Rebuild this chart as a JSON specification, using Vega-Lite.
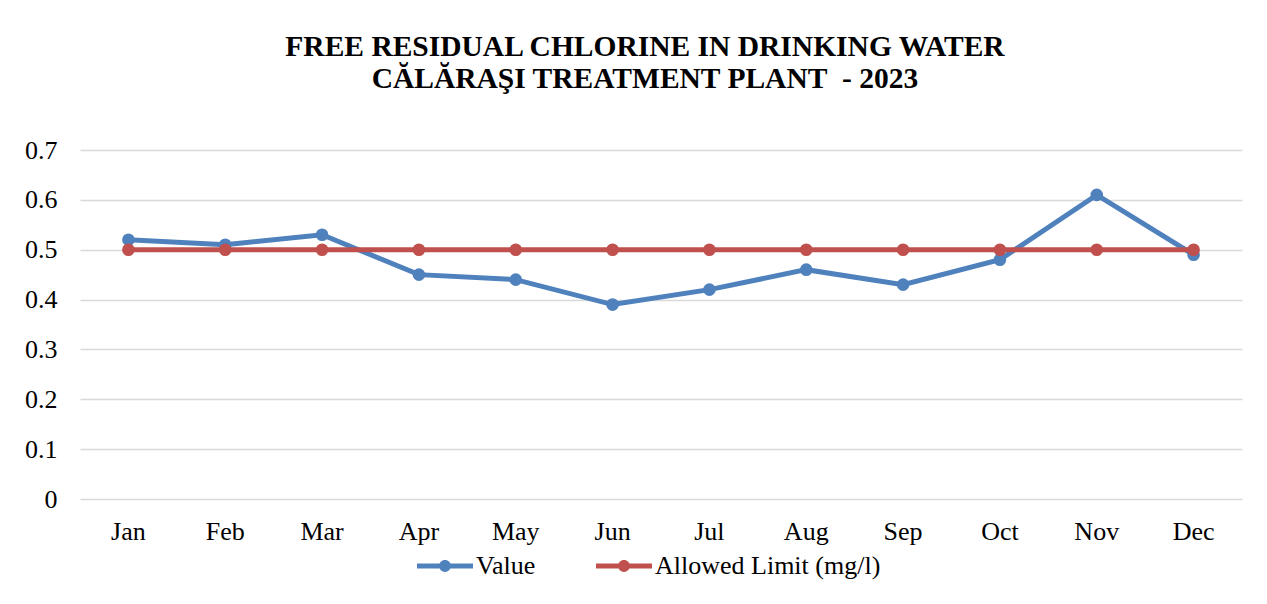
{
  "$schema": "https://vega.github.io/schema/vega-lite/v6.json",
  "autosize": "none",
  "width": 1162,
  "height": 349,
  "padding": {"left": 80, "top": 150, "right": 25, "bottom": 105},
  "background": "white",
  "title": {
    "text": ["FREE RESIDUAL CHLORINE IN DRINKING WATER", "CĂLĂRAŞI TREATMENT PLANT\u00a0 - 2023"],
    "font": "Liberation Serif",
    "fontSize": 29.5,
    "fontWeight": "bold",
    "color": "#000000",
    "anchor": "middle",
    "lineHeight": 32,
    "offset": 43,
    "dx": -16
  },
  "data": {
    "values": [
      {"month": "Jan", "series": "Value", "v": 0.52},
      {"month": "Feb", "series": "Value", "v": 0.51},
      {"month": "Mar", "series": "Value", "v": 0.53},
      {"month": "Apr", "series": "Value", "v": 0.45},
      {"month": "May", "series": "Value", "v": 0.44},
      {"month": "Jun", "series": "Value", "v": 0.39},
      {"month": "Jul", "series": "Value", "v": 0.42},
      {"month": "Aug", "series": "Value", "v": 0.46},
      {"month": "Sep", "series": "Value", "v": 0.43},
      {"month": "Oct", "series": "Value", "v": 0.48},
      {"month": "Nov", "series": "Value", "v": 0.61},
      {"month": "Dec", "series": "Value", "v": 0.49},
      {"month": "Jan", "series": "Allowed Limit (mg/l)", "v": 0.5},
      {"month": "Feb", "series": "Allowed Limit (mg/l)", "v": 0.5},
      {"month": "Mar", "series": "Allowed Limit (mg/l)", "v": 0.5},
      {"month": "Apr", "series": "Allowed Limit (mg/l)", "v": 0.5},
      {"month": "May", "series": "Allowed Limit (mg/l)", "v": 0.5},
      {"month": "Jun", "series": "Allowed Limit (mg/l)", "v": 0.5},
      {"month": "Jul", "series": "Allowed Limit (mg/l)", "v": 0.5},
      {"month": "Aug", "series": "Allowed Limit (mg/l)", "v": 0.5},
      {"month": "Sep", "series": "Allowed Limit (mg/l)", "v": 0.5},
      {"month": "Oct", "series": "Allowed Limit (mg/l)", "v": 0.5},
      {"month": "Nov", "series": "Allowed Limit (mg/l)", "v": 0.5},
      {"month": "Dec", "series": "Allowed Limit (mg/l)", "v": 0.5}
    ]
  },
  "mark": {
    "type": "line",
    "strokeWidth": 5,
    "point": {"filled": true, "size": 160, "opacity": 1}
  },
  "encoding": {
    "x": {
      "field": "month",
      "type": "ordinal",
      "sort": ["Jan","Feb","Mar","Apr","May","Jun","Jul","Aug","Sep","Oct","Nov","Dec"],
      "scale": {"type": "band", "paddingInner": 0, "paddingOuter": 0},
      "axis": {
        "title": null,
        "labelAngle": 0,
        "domain": false,
        "ticks": false,
        "grid": false,
        "labelPadding": 19,
        "labelFont": "Liberation Serif",
        "labelFontSize": 26,
        "labelColor": "#000000"
      }
    },
    "y": {
      "field": "v",
      "type": "quantitative",
      "scale": {"domain": [0, 0.7], "nice": false, "zero": true},
      "axis": {
        "title": null,
        "values": [0, 0.1, 0.2, 0.3, 0.4, 0.5, 0.6, 0.7],
        "labelExpr": "datum.value == 0 ? '0' : format(datum.value, '.1f')",
        "domain": false,
        "ticks": false,
        "grid": true,
        "gridColor": "#D9D9D9",
        "gridWidth": 1.5,
        "labelPadding": 23,
        "labelFont": "Liberation Serif",
        "labelFontSize": 26,
        "labelColor": "#000000",
        "labelFlush": false
      }
    },
    "color": {
      "field": "series",
      "type": "nominal",
      "sort": ["Value", "Allowed Limit (mg/l)"],
      "scale": {"domain": ["Value", "Allowed Limit (mg/l)"], "range": ["#4F81BD", "#C0504D"]},
      "legend": {
        "title": null,
        "orient": "none",
        "direction": "horizontal",
        "legendX": 337,
        "legendY": 388,
        "symbolType": "M-1,-0.09L1,-0.09L1,0.09L-1,0.09Z M0,-0.21A0.21,0.21 0 1,1 0,0.21A0.21,0.21 0 1,1 0,-0.21Z",
        "symbolSize": 3136,
        "symbolStrokeWidth": 0,
        "symbolOpacity": 1,
        "labelFont": "Liberation Serif",
        "labelFontSize": 26,
        "labelColor": "#000000",
        "labelLimit": 0,
        "labelOffset": 3,
        "columnPadding": 60
      }
    }
  },
  "config": {
    "view": {"stroke": null}
  }
}
